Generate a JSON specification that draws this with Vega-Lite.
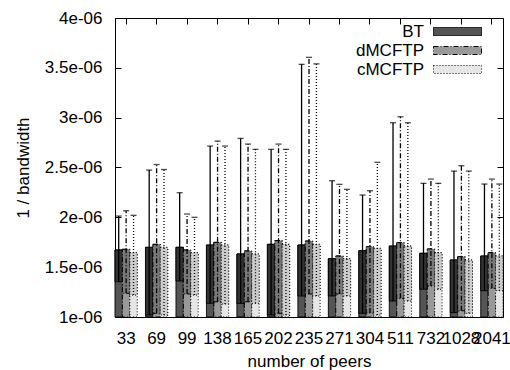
{
  "$schema": "https://vega.github.io/schema/vega-lite/v6.json",
  "width": 388,
  "height": 299,
  "autosize": {"type": "none"},
  "padding": {"left": 115, "top": 18, "right": 7, "bottom": 53},
  "background": "white",
  "config": {
    "view": {"stroke": "black", "strokeWidth": 1},
    "font": "Liberation Sans",
    "axis": {"labelFont": "Liberation Sans", "titleFont": "Liberation Sans", "labelFontSize": 17, "titleFontSize": 17, "titleFontWeight": "normal", "labelColor": "black", "titleColor": "black", "tickColor": "black", "domain": false, "grid": false},
    "legend": {"padding": 0}
  },
  "data": {"values": [
    {"peers": "33", "series": "BT", "mean": 1.672e-6, "low": 1.354e-6, "high": 2.013e-6},
    {"peers": "33", "series": "dMCFTP", "mean": 1.679e-6, "low": 1.238e-6, "high": 2.066e-6},
    {"peers": "33", "series": "cMCFTP", "mean": 1.645e-6, "low": 1.22e-6, "high": 2.02e-6},
    {"peers": "69", "series": "BT", "mean": 1.699e-6, "low": 1.02e-6, "high": 2.474e-6},
    {"peers": "69", "series": "dMCFTP", "mean": 1.729e-6, "low": 1.037e-6, "high": 2.53e-6},
    {"peers": "69", "series": "cMCFTP", "mean": 1.699e-6, "low": 1.02e-6, "high": 2.48e-6},
    {"peers": "99", "series": "BT", "mean": 1.699e-6, "low": 1.361e-6, "high": 2.247e-6},
    {"peers": "99", "series": "dMCFTP", "mean": 1.672e-6, "low": 1.231e-6, "high": 2.033e-6},
    {"peers": "99", "series": "cMCFTP", "mean": 1.645e-6, "low": 1.22e-6, "high": 2.0e-6},
    {"peers": "138", "series": "BT", "mean": 1.722e-6, "low": 1.137e-6, "high": 2.715e-6},
    {"peers": "138", "series": "dMCFTP", "mean": 1.749e-6, "low": 1.153e-6, "high": 2.765e-6},
    {"peers": "138", "series": "cMCFTP", "mean": 1.722e-6, "low": 1.13e-6, "high": 2.715e-6},
    {"peers": "165", "series": "BT", "mean": 1.632e-6, "low": 1.137e-6, "high": 2.792e-6},
    {"peers": "165", "series": "dMCFTP", "mean": 1.662e-6, "low": 1.153e-6, "high": 2.735e-6},
    {"peers": "165", "series": "cMCFTP", "mean": 1.632e-6, "low": 1.137e-6, "high": 2.682e-6},
    {"peers": "202", "series": "BT", "mean": 1.729e-6, "low": 1.02e-6, "high": 2.682e-6},
    {"peers": "202", "series": "dMCFTP", "mean": 1.766e-6, "low": 1.037e-6, "high": 2.735e-6},
    {"peers": "202", "series": "cMCFTP", "mean": 1.729e-6, "low": 1.02e-6, "high": 2.682e-6},
    {"peers": "235", "series": "BT", "mean": 1.722e-6, "low": 1.211e-6, "high": 3.535e-6},
    {"peers": "235", "series": "dMCFTP", "mean": 1.762e-6, "low": 1.231e-6, "high": 3.605e-6},
    {"peers": "235", "series": "cMCFTP", "mean": 1.729e-6, "low": 1.211e-6, "high": 3.54e-6},
    {"peers": "271", "series": "BT", "mean": 1.585e-6, "low": 1.211e-6, "high": 2.367e-6},
    {"peers": "271", "series": "dMCFTP", "mean": 1.612e-6, "low": 1.231e-6, "high": 2.331e-6},
    {"peers": "271", "series": "cMCFTP", "mean": 1.585e-6, "low": 1.211e-6, "high": 2.281e-6},
    {"peers": "304", "series": "BT", "mean": 1.665e-6, "low": 1.037e-6, "high": 2.224e-6},
    {"peers": "304", "series": "dMCFTP", "mean": 1.705e-6, "low": 1.04e-6, "high": 2.267e-6},
    {"peers": "304", "series": "cMCFTP", "mean": 1.689e-6, "low": 1.02e-6, "high": 2.552e-6},
    {"peers": "511", "series": "BT", "mean": 1.712e-6, "low": 1.16e-6, "high": 2.949e-6},
    {"peers": "511", "series": "dMCFTP", "mean": 1.745e-6, "low": 1.187e-6, "high": 3.009e-6},
    {"peers": "511", "series": "cMCFTP", "mean": 1.712e-6, "low": 1.16e-6, "high": 2.949e-6},
    {"peers": "732", "series": "BT", "mean": 1.639e-6, "low": 1.278e-6, "high": 2.341e-6},
    {"peers": "732", "series": "dMCFTP", "mean": 1.682e-6, "low": 1.311e-6, "high": 2.384e-6},
    {"peers": "732", "series": "cMCFTP", "mean": 1.645e-6, "low": 1.278e-6, "high": 2.341e-6},
    {"peers": "1028", "series": "BT", "mean": 1.572e-6, "low": 1.043e-6, "high": 2.464e-6},
    {"peers": "1028", "series": "dMCFTP", "mean": 1.605e-6, "low": 1.063e-6, "high": 2.518e-6},
    {"peers": "1028", "series": "cMCFTP", "mean": 1.572e-6, "low": 1.037e-6, "high": 2.464e-6},
    {"peers": "2041", "series": "BT", "mean": 1.612e-6, "low": 1.264e-6, "high": 2.334e-6},
    {"peers": "2041", "series": "dMCFTP", "mean": 1.645e-6, "low": 1.288e-6, "high": 2.384e-6},
    {"peers": "2041", "series": "cMCFTP", "mean": 1.612e-6, "low": 1.264e-6, "high": 2.334e-6}
  ]},
  "layer": [
    {
      "mark": {"type": "bar", "stroke": "black", "strokeWidth": 1},
      "encoding": {
        "x": {"field": "peers", "type": "nominal", "sort": null,
          "scale": {"paddingInner": 0.27, "paddingOuter": 0},
          "axis": {"orient": "bottom", "title": "number of peers", "labelAngle": 0, "labelOverlap": false, "tickSize": -6, "labelPadding": 19, "titlePadding": 7}},
        "xOffset": {"field": "series", "type": "nominal", "sort": ["BT", "dMCFTP", "cMCFTP"], "scale": {"paddingInner": 0, "paddingOuter": 0}},
        "y": {"field": "mean", "type": "quantitative",
          "scale": {"domain": [1e-6, 4e-6], "nice": false, "zero": false},
          "axis": {"orient": "left", "title": "1 / bandwidth", "values": [1e-6, 1.5e-6, 2e-6, 2.5e-6, 3e-6, 3.5e-6, 4e-6], "labelExpr": "format(datum.value*1e6, '~g') + 'e-06'", "tickSize": -6, "labelPadding": 19, "titlePadding": 12}},
        "y2": {"datum": 1e-6},
        "fill": {"field": "series", "type": "nominal",
          "scale": {"domain": ["BT", "dMCFTP", "cMCFTP"], "range": ["#555555", "#999999", "#e6e6e6"]},
          "legend": {"title": null, "orient": "none", "legendX": 334, "legendY": 5, "direction": "vertical",
            "symbolType": "M-3,-0.5H3V0.5H-3Z", "symbolSize": 256, "symbolStrokeColor": "black", "symbolStrokeWidth": 1, "symbolOpacity": 1,
            "labelAlign": "right", "labelOffset": -42, "labelFontSize": 17, "labelFont": "Liberation Sans", "labelColor": "black", "rowPadding": 1, "labelLimit": 200,
            "encode": {"symbols": {"update": {"stroke": {"value": "black"}, "strokeWidth": {"value": 1}}}}}},
        "strokeDash": {"field": "series", "type": "nominal",
          "scale": {"domain": ["BT", "dMCFTP", "cMCFTP"], "range": [[1, 0], [5, 2, 1, 2], [1, 2]]},
          "legend": {"title": null, "orient": "none", "legendX": 334, "legendY": 5, "direction": "vertical",
            "symbolType": "M-3,-0.5H3V0.5H-3Z", "symbolSize": 256, "symbolStrokeColor": "black", "symbolStrokeWidth": 1, "symbolOpacity": 1,
            "labelAlign": "right", "labelOffset": -42, "labelFontSize": 17, "labelFont": "Liberation Sans", "labelColor": "black", "rowPadding": 1, "labelLimit": 200,
            "encode": {"symbols": {"update": {"stroke": {"value": "black"}, "strokeWidth": {"value": 1}}}}}}
      }
    },
    {
      "mark": {"type": "bar", "stroke": "black", "strokeWidth": 1},
      "encoding": {
        "x": {"field": "peers", "type": "nominal", "sort": null, "axis": null},
        "xOffset": {"field": "series", "type": "nominal", "sort": ["BT", "dMCFTP", "cMCFTP"]},
        "y": {"field": "mean", "type": "quantitative", "axis": null},
        "y2": {"field": "low"},
        "color": {"field": "series", "type": "nominal", "legend": null,
          "scale": {"domain": ["BT", "dMCFTP", "cMCFTP"], "range": ["#333333", "#7a7a7a", "#cccccc"]}},
        "strokeDash": {"field": "series", "type": "nominal"}
      }
    },
    {
      "mark": {"type": "rule", "color": "black", "strokeWidth": 1.3},
      "encoding": {
        "x": {"field": "peers", "type": "nominal", "sort": null, "axis": null},
        "xOffset": {"field": "series", "type": "nominal", "sort": ["BT", "dMCFTP", "cMCFTP"]},
        "y": {"field": "low", "type": "quantitative", "axis": null},
        "y2": {"field": "high"},
        "strokeDash": {"field": "series", "type": "nominal"}
      }
    },
    {
      "mark": {"type": "tick", "orient": "horizontal", "color": "black", "size": 6, "thickness": 1.3},
      "encoding": {
        "x": {"field": "peers", "type": "nominal", "sort": null,
          "axis": {"orient": "top", "title": null, "labels": false, "tickSize": -6}},
        "xOffset": {"field": "series", "type": "nominal", "sort": ["BT", "dMCFTP", "cMCFTP"]},
        "y": {"field": "high", "type": "quantitative",
          "axis": {"orient": "right", "title": null, "labels": false, "values": [1e-6, 1.5e-6, 2e-6, 2.5e-6, 3e-6, 3.5e-6, 4e-6], "tickSize": -6}}
      }
    }
  ],
  "resolve": {"axis": {"x": "independent", "y": "independent"}}
}
